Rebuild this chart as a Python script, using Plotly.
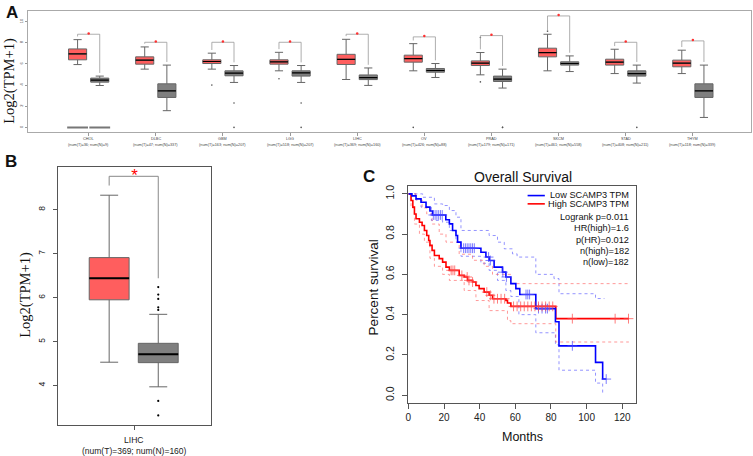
import plotly.graph_objects as go

W, H = 753, 456
def px(x): return x / W
def py(y): return 1 - y / H

# ---------------- Panel A data ----------------
cancers = ["CHOL", "DLBC", "GBM", "LGG", "LIHC", "OV", "PRAD", "SKCM", "STAD", "THYM"]
n_tumor = [36, 47, 163, 518, 369, 426, 179, 461, 408, 118]
n_normal = [9, 337, 207, 207, 160, 88, 171, 558, 211, 339]
t_q1 = [6.39, 5.98, 6.04, 5.98, 5.95, 6.17, 5.85, 6.67, 5.89, 5.73]
t_med = [6.95, 6.36, 6.23, 6.20, 6.44, 6.51, 6.07, 7.08, 6.17, 6.07]
t_q3 = [7.42, 6.67, 6.39, 6.39, 6.91, 6.83, 6.29, 7.49, 6.45, 6.36]
t_lo = [5.94, 5.51, 5.51, 5.35, 4.53, 5.35, 4.97, 5.35, 5.09, 5.09]
t_hi = [8.30, 7.61, 7.02, 7.10, 8.33, 7.92, 7.08, 8.81, 7.39, 7.30]
n_q1 = [4.28, 2.83, 4.88, 4.85, 4.52, 5.22, 4.34, 5.89, 4.85, 2.83]
n_med = [4.47, 3.46, 5.13, 5.16, 4.71, 5.38, 4.57, 6.04, 5.09, 3.46]
n_q3 = [4.66, 4.12, 5.35, 5.35, 4.96, 5.57, 4.85, 6.20, 5.35, 4.12]
n_lo = [3.96, 1.58, 4.25, 4.25, 3.97, 4.72, 3.72, 5.28, 4.19, 0.94]
n_hi = [4.85, 5.89, 5.85, 5.85, 5.62, 6.04, 5.51, 6.76, 5.89, 5.89]
bracket_y = [8.81, 8.05, 8.05, 8.05, 8.81, 8.56, 8.68, 10.54, 8.05, 8.18]
# visible outlier points (category index, group, value)
out_cat = [2, 2, 3, 3, 6, 6, 7, 2, 3, 5, 6, 6, 8]
out_grp = ["T", "N", "N", "T", "T", "T", "T", "N", "N", "T", "N", "N", "N"]
out_val = [4.0, 2.3, 2.3, 4.6, 8.5, 4.3, 9.1, 0.0, 0.0, 0.0, 0.0, 0.0, 0.0]

# ---------------- Panel B data (LIHC) ----------------
b_index = 4
b_out_n = [6.24, 6.07, 5.97, 5.78, 5.72, 3.65, 3.32]
b_bracket = 8.76

# ---------------- Panel C data ----------------
low_t = [0, 2, 4.3, 7.1, 9.9, 12.1, 13.6, 21, 23, 24.8, 26.7, 27.6, 29.5, 40.7, 43.5, 45.3, 48.1,
         52.8, 54.7, 57.5, 60.3, 62.5, 71.5, 82.5, 84.5, 105, 109, 111]
low_s = [1.0, 0.99, 0.975, 0.958, 0.934, 0.915, 0.895, 0.871, 0.851, 0.818, 0.793, 0.76, 0.73, 0.71,
         0.686, 0.669, 0.636, 0.611, 0.587, 0.554, 0.529, 0.50, 0.43, 0.365, 0.245, 0.163, 0.08, 0.08]
high_t = [0, 1.5, 2.5, 3.4, 4.3, 6.2, 7.7, 9, 10.3, 11.4, 12.1, 13.3, 14.6, 17.3, 19.2, 21.1, 23,
          28.5, 31.3, 33.2, 36, 37.9, 39.7, 42.5, 45.3, 47.2, 54.7, 55.6, 57.5, 82.7, 123.7]
high_s = [1.0, 0.967, 0.934, 0.90, 0.876, 0.859, 0.843, 0.818, 0.793, 0.768, 0.744, 0.719, 0.694,
          0.678, 0.661, 0.636, 0.62, 0.595, 0.587, 0.57, 0.562, 0.545, 0.529, 0.512, 0.496, 0.479,
          0.471, 0.458, 0.441, 0.38, 0.38]
low_up_t = [0, 8, 14.6, 19.2, 23, 26.7, 29.5, 40.7, 45.3, 50, 53.8, 58.4, 61, 71.5, 81.7, 84.5, 105, 110]
low_up_s = [1.0, 0.983, 0.95, 0.942, 0.917, 0.884, 0.818, 0.818, 0.793, 0.76, 0.727, 0.702, 0.686,
            0.60, 0.579, 0.504, 0.48, 0.48]
low_lo_t = [0, 4, 7.1, 12.9, 19.2, 23, 26.7, 29.5, 40.7, 45.3, 50, 54.7, 57.5, 62, 71.5, 82.5, 84.5, 105, 109]
low_lo_s = [1.0, 0.97, 0.934, 0.868, 0.859, 0.818, 0.76, 0.69, 0.655, 0.62, 0.57, 0.52, 0.49, 0.40,
            0.31, 0.25, 0.124, 0.06, 0.01]
high_up_t = [0, 2, 4.3, 7.7, 10.3, 13.3, 17.3, 21.1, 28.5, 36, 42.5, 47.2, 57.5, 123.7]
high_up_s = [1.0, 1.0, 0.97, 0.93, 0.90, 0.85, 0.80, 0.76, 0.70, 0.67, 0.64, 0.60, 0.554, 0.554]
high_lo_t = [0, 1.5, 3.4, 6.2, 9, 12.1, 14.6, 19.2, 23, 31.3, 37.9, 45.3, 55.6, 57.5, 82.7, 123.7]
high_lo_s = [1.0, 0.93, 0.85, 0.80, 0.76, 0.68, 0.64, 0.60, 0.57, 0.52, 0.47, 0.42, 0.37, 0.355, 0.264, 0.264]
low_cens = [14, 15, 16, 17, 18, 19, 31, 32, 33, 34, 35, 36, 37, 45, 46, 53, 55, 66, 67, 68, 73, 75, 77, 78, 92, 111]
high_cens = [24, 25, 26, 30, 33, 34, 36, 44, 46, 48, 50, 52, 54, 59, 61, 63, 65, 67, 69, 71, 73, 75,
             77, 79, 81, 92, 116, 123.5]
legend_lines = ["Logrank p=0.011", "HR(high)=1.6", "p(HR)=0.012", "n(high)=182", "n(low)=182"]

RED = "#FF5E5E"
GREY = "#7F7F7F"
SANS = "Liberation Sans, Arial, sans-serif"
SERIF = "Liberation Serif, Times New Roman, serif"

fig = go.Figure()

def step_at(ts, ss, t):
    v = ss[0]
    for a, b in zip(ts, ss):
        if a <= t:
            v = b
    return v

def add_boxes(xa, ya, pos_t, pos_n, width, idx, med_w):
    q = lambda arr: [arr[i] for i in idx]
    for pos, q1, med, q3, lo, hi, fill in [
        (pos_t, t_q1, t_med, t_q3, t_lo, t_hi, RED),
        (pos_n, n_q1, n_med, n_q3, n_lo, n_hi, GREY),
    ]:
        fig.add_trace(go.Box(x=pos, q1=q(q1), median=q(med), q3=q(q3), lowerfence=q(lo), upperfence=q(hi),
                             width=width, whiskerwidth=0.45, fillcolor=fill,
                             line=dict(color="#666666", width=1), boxpoints=False,
                             xaxis=xa, yaxis=ya, showlegend=False, hoverinfo="skip"))
        mx, my = [], []
        for p, m in zip(pos, q(med)):
            mx += [p - width / 2, p + width / 2, None]
            my += [m, m, None]
        fig.add_trace(go.Scatter(x=mx, y=my, mode="lines", line=dict(color="black", width=med_w),
                                 xaxis=xa, yaxis=ya, showlegend=False, hoverinfo="skip"))

# ---------- Panel A ----------
OFF = 0.165
BW = 0.27
idx_all = list(range(len(cancers)))
pos_t = [i - OFF for i in idx_all]
pos_n = [i + OFF for i in idx_all]
add_boxes("x", "y", pos_t, pos_n, BW, idx_all, 1.2)

ox = [c - OFF if g == "T" else c + OFF for c, g in zip(out_cat, out_grp)]
fig.add_trace(go.Scatter(x=ox, y=out_val, mode="markers", marker=dict(color="#555", size=1.6),
                         xaxis="x", yaxis="y", showlegend=False, hoverinfo="skip"))
# CHOL zero bars
zx, zy = [], []
for p in [pos_t[0], pos_n[0]]:
    zx += [p - BW / 2 - 0.02, p + BW / 2 + 0.02, None]
    zy += [0, 0, None]
fig.add_trace(go.Scatter(x=zx, y=zy, mode="lines", line=dict(color="#777", width=2),
                         xaxis="x", yaxis="y", showlegend=False, hoverinfo="skip"))

# brackets
bx, by = [], []
for i in idx_all:
    bx += [pos_t[i], pos_t[i], pos_n[i], pos_n[i], None]
    by += [t_hi[i] + 0.3, bracket_y[i], bracket_y[i], n_hi[i] + 0.3, None]
fig.add_trace(go.Scatter(x=bx, y=by, mode="lines", line=dict(color="#999", width=0.8),
                         xaxis="x", yaxis="y", showlegend=False, hoverinfo="skip"))
fig.add_trace(go.Scatter(x=idx_all, y=[b + 0.08 for b in bracket_y], mode="markers",
                         marker=dict(color="#FF3030", size=2.5),
                         xaxis="x", yaxis="y", showlegend=False, hoverinfo="skip"))

# ---------- Panel B ----------
bpos_t, bpos_n = [-0.33], [0.31]
add_boxes("x2", "y2", bpos_t, bpos_n, 0.52, [b_index], 2)
fig.add_trace(go.Scatter(x=[bpos_n[0]] * len(b_out_n), y=b_out_n, mode="markers",
                         marker=dict(color="black", size=2.2),
                         xaxis="x2", yaxis="y2", showlegend=False, hoverinfo="skip"))
fig.add_trace(go.Scatter(x=[bpos_t[0], bpos_t[0], bpos_n[0], bpos_n[0]],
                         y=[t_hi[b_index] + 0.22, b_bracket, b_bracket, max(b_out_n) + 0.2],
                         mode="lines", line=dict(color="#888", width=1),
                         xaxis="x2", yaxis="y2", showlegend=False, hoverinfo="skip"))
fig.add_trace(go.Scatter(x=[0], y=[b_bracket], mode="text", text=["*"],
                         textfont=dict(color="red", size=17, family=SANS), textposition="middle center",
                         xaxis="x2", yaxis="y2", showlegend=False, hoverinfo="skip"))

# ---------- Panel C ----------
def km(ts, ss, color, width, dash=None):
    fig.add_trace(go.Scatter(x=ts, y=ss, mode="lines", line=dict(color=color, width=width, shape="hv", dash=dash),
                             xaxis="x3", yaxis="y3", showlegend=False, hoverinfo="skip"))

km(low_up_t, low_up_s, "rgba(90,90,255,0.65)", 1, "dot")
km(low_lo_t, low_lo_s, "rgba(90,90,255,0.65)", 1, "dot")
km(high_up_t, high_up_s, "rgba(255,100,100,0.65)", 1, "dot")
km(high_lo_t, high_lo_s, "rgba(255,100,100,0.65)", 1, "dot")
km(high_t, high_s, "#FF0000", 1.6)
km(low_t, low_s, "#0000FF", 1.6)
fig.add_trace(go.Scatter(x=low_cens, y=[step_at(low_t, low_s, t) for t in low_cens], mode="markers",
                         marker=dict(symbol="cross-thin", size=7, line=dict(color="rgba(70,70,255,0.7)", width=1)),
                         xaxis="x3", yaxis="y3", showlegend=False, hoverinfo="skip"))
fig.add_trace(go.Scatter(x=high_cens, y=[step_at(high_t, high_s, t) for t in high_cens], mode="markers",
                         marker=dict(symbol="cross-thin", size=7, line=dict(color="rgba(255,70,70,0.7)", width=1)),
                         xaxis="x3", yaxis="y3", showlegend=False, hoverinfo="skip"))

# ---------- Layout ----------
common = dict(showline=True, mirror=True, linewidth=1, showgrid=False, zeroline=False, ticks="outside")
fig.update_layout(
    width=W, height=H, margin=dict(l=0, r=0, t=0, b=0),
    paper_bgcolor="white", plot_bgcolor="white",
    font=dict(family=SANS, color="#222"),
    xaxis=dict(domain=[px(25), px(751)], range=[-0.905, 9.866], tickvals=idx_all, showticklabels=False,
               anchor="y", ticklen=3, tickcolor="#999", linecolor="#aaa", **common),
    yaxis=dict(domain=[py(131), py(10)], range=[-0.41, 11.01], tickvals=[0, 2, 4, 6, 8, 10], anchor="x",
               tickangle=-90, tickfont=dict(size=4, color="#444"), ticklen=2, tickcolor="#999",
               linecolor="#aaa", **common),
    xaxis2=dict(domain=[px(55), px(209)], range=[-1, 1], tickvals=[0], anchor="y2", showticklabels=False,
                ticklen=4, tickcolor="#555", linecolor="#555", **common),
    yaxis2=dict(domain=[py(425), py(166)], range=[3.10, 8.98], tickvals=[4, 5, 6, 7, 8], tickangle=-90,
                anchor="x2", tickfont=dict(size=8.5, color="#222"), ticklen=4, tickcolor="#555",
                ticklabelstandoff=4, linecolor="#555", **common),
    xaxis3=dict(domain=[px(407), px(635.7)], range=[0, 127.8], tickvals=[0, 20, 40, 60, 80, 100, 120],
                anchor="y3", tickfont=dict(size=10, color="#222"), ticklen=5, tickcolor="#555",
                linecolor="#555", **common),
    yaxis3=dict(domain=[py(402.7), py(185)], range=[-0.038, 1.041], tickvals=[0, 0.2, 0.4, 0.6, 0.8, 1.0],
                ticktext=["0.0", "0.2", "0.4", "0.6", "0.8", "1.0"], tickangle=-90, anchor="x3",
                tickfont=dict(size=10.5, color="#222"), ticklen=5, tickcolor="#555", ticklabelstandoff=4,
                linecolor="#555", **common),
)

ann = []
def text(x, y, s, size, family=SANS, angle=0, xanchor="center", color="#111", bold=False):
    ann.append(dict(x=px(x), y=py(y), xref="paper", yref="paper", text=f"<b>{s}</b>" if bold else s,
                    showarrow=False, font=dict(size=size, family=family, color=color), textangle=angle,
                    xanchor=xanchor, yanchor="middle", borderpad=0))

def cat_label(xref, xval, y, s, size, color):
    ann.append(dict(x=xval, y=py(y), xref=xref, yref="paper", text=s, showarrow=False, borderpad=0,
                    font=dict(size=size, family=SANS, color=color), xanchor="center", yanchor="middle"))

for i, (c, t, n) in enumerate(zip(cancers, n_tumor, n_normal)):
    cat_label("x", i, 138, c, 3.8, "#444")
    cat_label("x", i, 144, f"(num(T)={t}; num(N)={n})", 3.8, "#444")
cat_label("x2", 0, 439.5, cancers[b_index], 8.6, "#222")
cat_label("x2", 0, 450.5, f"(num(T)={n_tumor[b_index]}; num(N)={n_normal[b_index]})", 8.5, "#222")

text(9, 12, "A", 17, bold=True)
text(8, 161, "B", 17, bold=True)
text(367, 176, "C", 17, bold=True)
text(7, 80, "Log2(TPM+1)", 14.5, family=SERIF, angle=-90)
text(22.5, 294, "Log2(TPM+1)", 14.5, family=SERIF, angle=-90)
text(521.7, 176, "Overall Survival", 14)
text(521.7, 436.7, "Months", 12.5)
text(372, 287.5, "Percent survival", 13.5, angle=-90)
text(630, 194.5, "Low SCAMP3 TPM", 9.2, xanchor="right")
text(630, 203.5, "High SCAMP3 TPM", 9.2, xanchor="right")
for k, s in enumerate(legend_lines):
    text(630, 216.5 + 11.3 * k, s, 9.2, xanchor="right")
fig.update_layout(annotations=ann)
fig.add_shape(type="line", xref="paper", yref="paper", x0=px(526.7), x1=px(544), y0=py(195), y1=py(195),
              line=dict(color="#0000FF", width=1.6))
fig.add_shape(type="line", xref="paper", yref="paper", x0=px(526.7), x1=px(544), y0=py(203.3), y1=py(203.3),
              line=dict(color="#FF0000", width=1.6))

fig.write_html("out.html", config={"displayModeBar": False},
               post_script="document.body.style.margin='0';document.body.style.padding='0';"
                           "document.documentElement.style.overflow='hidden';")
